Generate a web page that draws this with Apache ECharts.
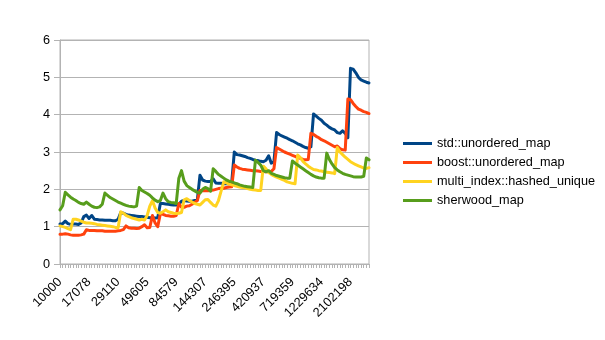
<!DOCTYPE html>
<html><head><meta charset="utf-8">
<script src="https://cdn.jsdelivr.net/npm/echarts/dist/echarts.min.js"></script>
<style>html,body{margin:0;padding:0;background:#fff}#c{width:605px;height:340px}</style>
</head><body><div id="c"></div>
<script>
const categories = [10000,10500,11025,11576,12154,12760,13396,14063,14763,15498,
16269,17078,17927,18818,19753,20734,21764,22845,23980,25171,
26421,27733,29110,30555,32072,33664,35335,37089,38930,40863,
42892,45022,47258,49605,52069,54656,57372,60223,63216,66357,
69656,73119,76755,80572,84579,88786,93203,97840,102708,107819,
113185,118818,124733,130943,137463,144307,151496,159043,166967,175286,
184022,193194,202823,212934,223549,234695,246395,258684,271585,285132,
299355,314288,329968,346432,363719,381869,400926,420937,441944,464003,
487164,511484,537018,563829,591979,621536,652570,685155,719359,755292,
793010,832613,874196,917857,963700,1011834,1062374,1115439,1171156,1229634,
1291083,1355578,1423296,1494399,1569055,1647443,1729748,1816165,1906901,2002170,
2102198,2207229,2317505,2433292,2554865,2682512,2816537,2957258];

const stdUnorderedMap = [1.07,1.08,1.15,1.08,1.06,1.07,1.07,1.06,1.10,1.27,
1.31,1.22,1.30,1.20,1.19,1.18,1.18,1.17,1.17,1.17,
1.16,1.16,1.20,1.38,1.36,1.33,1.31,1.30,1.29,1.28,
1.27,1.27,1.26,1.25,1.24,1.24,1.23,1.24,1.62,1.62,
1.61,1.60,1.59,1.58,1.58,1.60,1.68,1.70,1.69,1.68,
1.68,1.70,1.72,2.38,2.25,2.22,2.21,2.21,2.28,2.17,
2.16,2.16,2.15,2.15,2.15,2.17,3.00,2.93,2.92,2.90,
2.88,2.85,2.83,2.80,2.78,2.77,2.75,2.74,2.78,2.90,
2.70,2.74,3.52,3.47,3.43,3.40,3.37,3.33,3.30,3.26,
3.22,3.19,3.15,3.12,3.10,3.14,4.02,3.96,3.90,3.85,
3.77,3.72,3.66,3.62,3.59,3.52,3.50,3.57,3.50,3.38,
5.24,5.22,5.12,5.00,4.93,4.90,4.87,4.85];

const boostUnorderedMap = [0.80,0.80,0.81,0.80,0.78,0.77,0.77,0.77,0.78,0.80,
0.92,0.90,0.90,0.90,0.89,0.89,0.89,0.88,0.88,0.88,
0.88,0.88,0.89,0.90,0.92,1.02,0.97,0.96,0.96,0.95,
0.96,1.00,1.05,0.97,0.98,1.30,1.10,1.00,1.35,1.33,
1.30,1.29,1.28,1.28,1.30,1.62,1.52,1.52,1.55,1.56,
1.60,1.65,1.70,1.97,1.96,1.96,1.96,1.97,1.98,2.00,
2.02,2.03,2.03,2.05,2.06,2.07,2.65,2.60,2.56,2.54,
2.53,2.52,2.51,2.50,2.50,2.49,2.48,2.48,2.47,2.47,
2.48,2.55,3.12,3.08,3.04,3.00,2.97,2.94,2.91,2.88,
2.85,2.83,2.80,2.79,2.80,3.50,3.47,3.42,3.38,3.33,
3.30,3.26,3.22,3.18,3.14,3.16,3.09,3.06,3.05,4.42,
4.40,4.30,4.22,4.15,4.12,4.08,4.06,4.03];

const multiIndexHashedUnique = [1.02,1.00,0.98,0.95,0.92,1.20,1.20,1.18,1.15,1.12,
1.10,1.10,1.09,1.08,1.06,1.05,1.04,1.03,1.02,1.01,
1.00,0.98,0.97,1.40,1.36,1.30,1.27,1.24,1.22,1.20,
1.18,1.20,1.18,1.30,1.55,1.70,1.50,1.38,1.36,1.40,
1.45,1.40,1.38,1.36,1.35,1.36,1.38,1.72,1.75,1.70,
1.66,1.62,1.60,1.58,1.65,1.72,1.73,1.65,1.58,1.55,
1.70,1.95,2.20,2.17,2.14,2.12,2.10,2.08,2.06,2.05,
2.04,2.02,2.00,1.99,1.98,1.97,1.97,2.62,2.55,2.45,
2.40,2.36,2.33,2.30,2.27,2.24,2.20,2.18,2.16,2.15,
2.92,2.85,2.75,2.68,2.62,2.57,2.53,2.52,2.50,2.49,
2.47,2.46,2.45,2.44,2.42,3.12,3.00,2.93,2.86,2.80,
2.74,2.70,2.66,2.63,2.60,2.57,2.56,2.58];

const sherwoodMap = [1.45,1.56,1.92,1.85,1.79,1.74,1.70,1.65,1.62,1.60,
1.66,1.60,1.55,1.52,1.51,1.53,1.60,1.90,1.84,1.78,
1.74,1.70,1.66,1.63,1.60,1.57,1.55,1.54,1.53,1.55,
2.05,1.97,1.93,1.89,1.84,1.77,1.71,1.67,1.70,1.90,
1.75,1.67,1.65,1.64,1.62,2.30,2.50,2.22,2.10,2.05,
2.00,1.96,1.92,1.90,2.00,2.05,2.02,1.95,2.55,2.48,
2.40,2.35,2.30,2.25,2.22,2.20,2.17,2.15,2.12,2.10,
2.08,2.07,2.06,2.05,2.78,2.72,2.65,2.50,2.47,2.50,
2.43,2.40,2.37,2.35,2.33,2.31,2.30,2.30,2.76,2.70,
2.65,2.60,2.55,2.50,2.45,2.40,2.36,2.33,2.31,2.30,
2.30,2.97,2.80,2.68,2.58,2.52,2.47,2.43,2.40,2.38,
2.36,2.34,2.33,2.33,2.33,2.35,2.84,2.79];

const seriesNames = ['std::unordered_map','boost::unordered_map','multi_index::hashed_unique','sherwood_map'];
const seriesColors = ['#004586','#ff420e','#ffd320','#579d1c'];
const seriesData = [stdUnorderedMap, boostUnorderedMap, multiIndexHashedUnique, sherwoodMap];

const FONT = 'Liberation Sans, Arial, sans-serif';
const GRID_COLOR = '#b3b3b3';

const chart = echarts.init(document.getElementById('c'), null, {renderer:'canvas'});
chart.setOption({
  animation: false,
  backgroundColor: '#ffffff',
  textStyle: {fontFamily: FONT},
  grid: {left: 60, right: 236, top: 40, bottom: 76, show: true, borderColor: GRID_COLOR, borderWidth: 1, backgroundColor: 'transparent'},
  legend: {
    orient: 'vertical', left: 398, top: 131,
    itemWidth: 29, itemHeight: 3, itemGap: 4, icon: 'rect',
    textStyle: {fontFamily: FONT, fontSize: 12.7, color: '#000', lineHeight: 15},
    data: seriesNames
  },
  xAxis: {
    type: 'category', boundaryGap: false,
    data: categories.map(String),
    axisLine: {lineStyle: {color: GRID_COLOR, width: 1}},
    axisTick: {show: true, interval: 0, length: 4, lineStyle: {color: GRID_COLOR}},
    axisLabel: {interval: 10, rotate: 45, margin: 16, fontFamily: FONT, fontSize: 12.7, color: '#000'},
    splitLine: {show: false}
  },
  yAxis: {
    type: 'value', min: 0, max: 6, interval: 1,
    axisLine: {show: true, lineStyle: {color: GRID_COLOR, width: 1}},
    axisTick: {show: true, length: 6, lineStyle: {color: GRID_COLOR}},
    axisLabel: {margin: 10, fontFamily: FONT, fontSize: 12.7, color: '#000'},
    splitLine: {show: true, lineStyle: {color: GRID_COLOR, width: 1}}
  },
  series: seriesNames.map((n, k) => ({
    name: n, type: 'line', data: seriesData[k], symbol: 'none',
    color: seriesColors[k],
    lineStyle: {width: 3, color: seriesColors[k], join: 'round', cap: 'round'}
  }))
});
</script>
</body></html>
